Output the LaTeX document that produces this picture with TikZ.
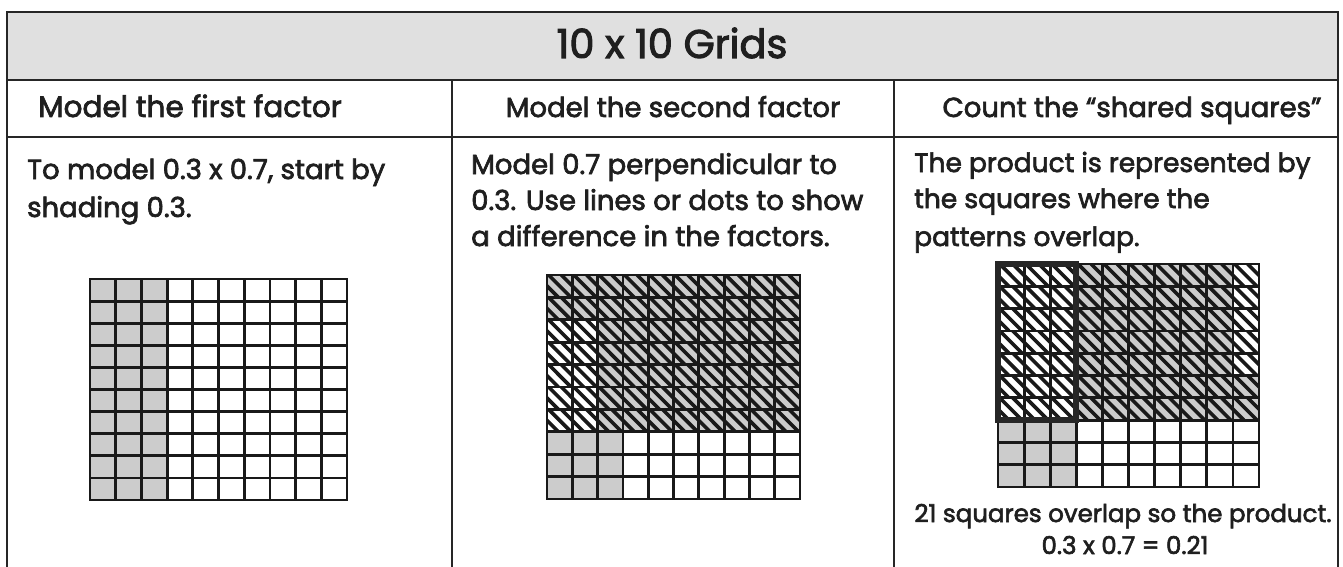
\documentclass[tikz,border=0pt]{standalone}
\usepackage{fontspec}
\newfontfamily\hand{Poppins}[FakeBold=2.5]
\tikzset{
  tline/.style={line width=2pt, black!85},
  gline/.style={line width=2.8pt, black!90},
  shadefill/.style={fill=black!20},
  hatchl/.style={line width=3.6pt, black!90},
  thickbox/.style={line width=6pt, black!85},
  bodytxt/.style={font=\hand\fontsize{27.5}{30}\selectfont, anchor=base west, inner sep=0pt, text=black!88},
  subtxt/.style={font=\hand\fontsize{27.5}{30}\selectfont, anchor=base, inner sep=0pt, text=black!88},
  headtxt/.style={font=\hand\fontsize{40}{44}\selectfont, anchor=base, inner sep=0pt, text=black!88},
  smalltxt/.style={font=\hand\fontsize{24.5}{28}\selectfont, anchor=base, inner sep=0pt, text=black!88},
}
\newcommand\gridlines{%
  \foreach \i in {0,...,10}{%
    \draw[gline] (\i,0) -- (\i,10);
    \draw[gline] (0,\i) -- (10,\i);
  }%
  \draw[gline] (0,0) rectangle (10,10);
}
\newcommand\hatchrows[1]{% rows 0..#1
  \foreach \c in {0,...,9}{%
    \foreach \r in {0,...,#1}{%
      \begin{scope}
        \clip (\c,\r) rectangle ++(1,1);
        \foreach \o in {-0.435,0.065,0.565}{%
          \draw[hatchl] ({\c+\o},\r) -- ++(\hr,1);
        }
      \end{scope}
    }
  }
}
\begin{document}
\begin{tikzpicture}[x=1pt,y=-1pt]
\useasboundingbox (0,0) rectangle (1343,567);
\fill[white] (0,0) rectangle (1343,567);

% header band
\fill[black!12] (7,12) rectangle (1338,80);

% ---------- grid 1 ----------
\begin{scope}[shift={(90,279)}, x=25.7pt, y=-22.1pt]
  \fill[shadefill] (0,0) rectangle (3,10);
  \gridlines
\end{scope}

% ---------- grid 2 ----------
\begin{scope}[shift={(547,275)}, x=25.3pt, y=-22.4pt]
  \def\hr{0.885}
  \fill[shadefill] (0,0) rectangle (10,2);
  \fill[shadefill] (2,2) rectangle (10,7);
  \fill[shadefill] (0,7) rectangle (3,10);
  \hatchrows{6}
  \gridlines
\end{scope}

% ---------- grid 3 ----------
\begin{scope}[shift={(998,264)}, x=26.1pt, y=-22.3pt]
  \def\hr{0.854}
  \fill[shadefill] (3,0) rectangle (9,7);
  \fill[shadefill] (9,5) rectangle (10,7);
  \fill[shadefill] (0,7) rectangle (3,10);
  \hatchrows{6}
  \gridlines
  \draw[thickbox] (0,0) rectangle (3,7);
\end{scope}

% ---------- table lines ----------
\draw[tline] (7,567) -- (7,12) -- (1338,12) -- (1338,567);
\draw[tline] (7,80) -- (1338,80);
\draw[tline] (7,137) -- (1338,137);
\draw[tline] (452,80) -- (452,567);
\draw[tline] (894,80) -- (894,567);

% ---------- texts ----------
\node[headtxt] (head) at (672,58) {10 x 10 Grids};
\node[subtxt, font=\hand\fontsize{29.5}{32}\selectfont] (sub1) at (190,117) {Model the first factor};
\node[subtxt] (sub2) at (673,117) {Model the second factor};
\node[subtxt] (sub3) at (1132,117) {Count the “shared squares”};

\node[bodytxt] (a1) at (27,179) {To model 0.3 x 0.7, start by};
\node[bodytxt] (a2) at (27,217) {shading 0.3.};

\node[bodytxt] (b1) at (471,174) {Model 0.7 perpendicular to};
\node[bodytxt] (b2) at (471,210) {0.3. Use lines or dots to show};
\node[bodytxt] (b3) at (471,246) {a difference in the factors.};

\node[bodytxt, font=\hand\fontsize{26.5}{30}\selectfont] (c1) at (914,172) {The product is represented by};
\node[bodytxt, font=\hand\fontsize{26.5}{30}\selectfont] (c2) at (914,208) {the squares where the};
\node[bodytxt, font=\hand\fontsize{26.5}{30}\selectfont] (c3) at (914,246) {patterns overlap.};

\node[smalltxt] (d1) at (1123,522) {21 squares overlap so the product.};
\node[smalltxt] (d2) at (1125,554) {0.3 x 0.7 = 0.21};
\end{tikzpicture}
\end{document}
